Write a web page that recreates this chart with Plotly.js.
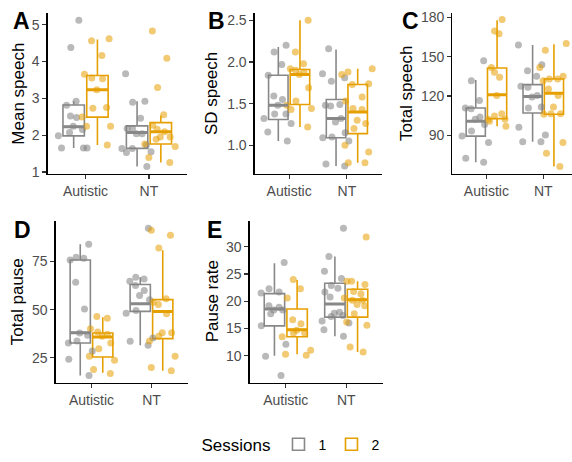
<!DOCTYPE html>
<html>
<head>
<meta charset="utf-8">
<script src="https://cdn.plot.ly/plotly-3.0.1.min.js"></script>
<style>html,body{margin:0;padding:0;background:#fff;}#chart{width:572px;height:462px;}</style>
</head>
<body>
<div id="chart"></div>
<script>
// ---- data ----
const groups = ['Autistic', 'NT'];
const sessions = ['1', '2'];

// A: Mean speech
const meanSpeechAut1 = [5.12, 4.38, 2.92, 2.81, 2.52, 2.48, 2.24, 2.15, 2.07, 1.98, 1.65, 1.65, 1.65];
const meanSpeechAut2 = [4.62, 4.56, 4.16, 3.65, 3.55, 3.53, 3.23, 2.75, 2.73, 2.49, 2.24, 2.24, 1.73];
const meanSpeechNT1 = [3.67, 2.92, 2.89, 2.46, 2.18, 2.18, 2.04, 2.04, 1.73, 1.64, 1.64, 1.55, 1.53, 1.15];
const meanSpeechNT2 = [4.83, 4.09, 3.29, 2.55, 2.27, 2.16, 2.09, 1.95, 1.95, 1.89, 1.76, 1.69, 1.39, 1.26];
// box stats order: [Aut S1, Aut S2, NT S1, NT S2]
const meanSpeechQ1 = [1.98, 2.49, 1.64, 1.76];
const meanSpeechMed = [2.23, 3.23, 2.07, 2.09];
const meanSpeechQ3 = [2.82, 3.62, 2.25, 2.34];
const meanSpeechLo = [1.65, 1.73, 1.15, 1.26];
const meanSpeechHi = [2.92, 4.60, 2.92, 2.53];

// B: SD speech
const sdSpeechAut1 = [2.20, 2.12, 1.97, 1.84, 1.59, 1.55, 1.48, 1.375, 1.375, 1.32, 1.26, 1.16, 1.05];
const sdSpeechAut2 = [2.50, 2.12, 1.98, 1.92, 1.90, 1.88, 1.85, 1.69, 1.53, 1.48, 1.44, 1.43, 1.22];
const sdSpeechNT1 = [2.16, 1.86, 1.81, 1.77, 1.49, 1.48, 1.47, 1.32, 1.28, 1.15, 1.10, 1.09, 1.05, 0.775, 0.75];
const sdSpeechNT2 = [1.92, 1.88, 1.85, 1.74, 1.73, 1.58, 1.53, 1.44, 1.43, 1.30, 1.26, 1.20, 1.00, 0.92, 0.79, 0.79];
const sdSpeechQ1 = [1.31, 1.49, 1.09, 1.14];
const sdSpeechMed = [1.48, 1.85, 1.32, 1.40];
const sdSpeechQ3 = [1.84, 1.91, 1.55, 1.73];
const sdSpeechLo = [1.05, 1.22, 0.75, 0.79];
const sdSpeechHi = [2.18, 2.50, 2.15, 1.92];

// C: Total speech
const totSpeechAut1 = [146.8, 131.7, 116.6, 110.9, 110.4, 104.1, 102.3, 98.3, 93.3, 89.5, 84.7, 72.7, 69.6];
const totSpeechAut2 = [178.2, 169.4, 167.4, 141.8, 138.0, 134.2, 120.4, 106.6, 104.8, 102.3, 102.3, 100.8, 97.0];
const totSpeechNT1 = [158.9, 143.8, 139.3, 135.0, 127.4, 126.7, 120.4, 119.2, 111.6, 110.9, 96.3, 90.3, 85.2, 85.2];
const totSpeechNT2 = [159.9, 154.9, 141.8, 135.0, 133.0, 133.0, 131.7, 125.4, 120.4, 111.6, 106.6, 106.6, 106.1, 84.7, 76.4, 66.4];
const totSpeechQ1 = [89.5, 102.8, 107.1, 106.1];
const totSpeechMed = [100.8, 120.9, 119.7, 122.2];
const totSpeechQ3 = [110.9, 141.3, 128.7, 133.0];
const totSpeechLo = [69.6, 97.0, 85.2, 66.4];
const totSpeechHi = [132.2, 177.7, 158.9, 159.4];

// D: Total pause
const totPauseAut1 = [83.9, 77.1, 76.7, 75.7, 64.2, 50.4, 37.9, 36.7, 33.8, 32.7, 28.6, 24.3, 15.9];
const totPauseAut2 = [46.5, 45.6, 40.1, 38.4, 37.2, 36.2, 32.7, 29.8, 25.9, 23.8, 19.0, 16.9];
const totPauseNT1 = [92.2, 66.8, 65.9, 64.7, 62.5, 59.9, 57.3, 55.1, 49.6, 48.2, 35.3, 33.6, 31.5];
const totPauseNT2 = [91.2, 88.6, 81.9, 55.6, 53.9, 52.7, 47.9, 38.1, 38.1, 36.2, 33.8, 25.9, 20.0, 18.3];
const totPauseQ1 = [32.7, 25.5, 49.1, 35.0];
const totPauseMed = [38.1, 35.8, 53.0, 49.1];
const totPauseQ3 = [75.7, 37.9, 63.0, 55.2];
const totPauseLo = [15.9, 17.3, 31.5, 18.3];
const totPauseHi = [83.9, 46.1, 66.8, 80.8];

// E: Pause rate
const pauseRateAut1 = [27.1, 22.3, 21.7, 21.5, 19.2, 18.9, 18.4, 18.4, 17.7, 15.5, 12.1, 9.9, 6.4];
const pauseRateAut2 = [24.0, 22.3, 20.6, 16.6, 15.9, 14.7, 14.2, 14.2, 13.5, 11.0, 10.3, 10.1];
const pauseRateNT1 = [33.4, 28.2, 25.5, 24.2, 22.9, 22.4, 21.7, 20.8, 18.0, 17.8, 17.4, 17.2, 16.4, 16.0, 14.8, 13.6];
const pauseRateNT2 = [31.8, 23.7, 23.7, 23.1, 21.8, 21.4, 20.6, 20.2, 20.2, 19.4, 19.2, 17.7, 16.2, 15.6, 11.6, 10.7];
const pauseRateQ1 = [15.5, 13.5, 17.1, 17.1];
const pauseRateMed = [18.6, 14.8, 19.5, 20.3];
const pauseRateQ3 = [21.4, 18.6, 23.3, 22.2];
const pauseRateLo = [10.0, 10.3, 13.6, 10.7];
const pauseRateHi = [27.0, 23.9, 28.2, 23.7];

const yTitles = ['Mean speech', 'SD speech', 'Total speech', 'Total pause', 'Pause rate'];
const tags = ['A', 'B', 'C', 'D', 'E'];
const tickValsA = [1, 2, 3, 4, 5];
const tickValsB = [1.0, 1.5, 2.0, 2.5];
const tickValsC = [90, 120, 150, 180];
const tickValsD = [25, 50, 75];
const tickValsE = [10, 15, 20, 25, 30];

// ---- layout geometry (px) ----
const W = 572, H = 462;
const FONT = 'Liberation Sans, Arial, Helvetica, sans-serif';
const panels = [
  {pts: [meanSpeechAut1, meanSpeechAut2, meanSpeechNT1, meanSpeechNT2], q1: meanSpeechQ1, med: meanSpeechMed, q3: meanSpeechQ3, lo: meanSpeechLo, hi: meanSpeechHi,
   xd: [47.5, 187], yd: [13, 175.7], yr: [0.95, 5.32], xr: [0.4, 2.6], tv: tickValsA, fmt: '', titleX: 18.3, tagX: 10.5, tagY: 21},
  {pts: [sdSpeechAut1, sdSpeechAut2, sdSpeechNT1, sdSpeechNT2], q1: sdSpeechQ1, med: sdSpeechMed, q3: sdSpeechQ3, lo: sdSpeechLo, hi: sdSpeechHi,
   xd: [254.5, 381.5], yd: [13, 175.7], yr: [0.657, 2.59], xr: [0.4, 2.6], tv: tickValsB, fmt: '.1f', titleX: 211.7, tagX: 206.5, tagY: 21},
  {pts: [totSpeechAut1, totSpeechAut2, totSpeechNT1, totSpeechNT2], q1: totSpeechQ1, med: totSpeechMed, q3: totSpeechQ3, lo: totSpeechLo, hi: totSpeechHi,
   xd: [452.3, 571.7], yd: [13, 175.7], yr: [60.8, 183.3], xr: [0.4, 2.5], tv: tickValsC, fmt: '', titleX: 406.7, tagX: 400, tagY: 21},
  {pts: [totPauseAut1, totPauseAut2, totPauseNT1, totPauseNT2], q1: totPauseQ1, med: totPauseMed, q3: totPauseQ3, lo: totPauseLo, hi: totPauseHi,
   xd: [55.5, 187.5], yd: [223.3, 387], yr: [12.1, 96], xr: [0.4, 2.6], tv: tickValsD, fmt: '', titleX: 18.3, tagX: 11.5, tagY: 233},
  {pts: [pauseRateAut1, pauseRateAut2, pauseRateNT1, pauseRateNT2], q1: pauseRateQ1, med: pauseRateMed, q3: pauseRateQ3, lo: pauseRateLo, hi: pauseRateHi,
   xd: [249.5, 382.5], yd: [223.3, 387], yr: [5.05, 34.75], xr: [0.4, 2.6], tv: tickValsE, fmt: '', titleX: 212.5, tagX: 205, tagY: 233}
];

const colors = ['#888888', '#E69F00'];
const ptColors = ['#808080', '#E69F00'];
const dodge = 0.1875, boxW = 0.3375, jitW = 0.6;

const data = [];
const layout = {
  width: W, height: H,
  margin: {l: 0, r: 0, t: 0, b: 0},
  paper_bgcolor: '#fff', plot_bgcolor: '#fff',
  showlegend: true,
  font: {family: FONT, color: '#000'},
  legend: {
    orientation: 'h', x: 292 / W, xanchor: 'center', y: 1 - 450 / H, yanchor: 'middle',
    title: {text: 'Sessions', font: {size: 17, family: FONT, color: '#000'}, side: 'left'},
    font: {size: 14, family: FONT, color: '#000'}
  },
  annotations: [],
  boxmode: 'overlay'
};

panels.forEach((p, k) => {
  const n = k === 0 ? '' : String(k + 1);
  const xa = 'x' + n, ya = 'y' + n;
  layout['xaxis' + n] = {
    domain: [p.xd[0] / W, p.xd[1] / W], range: p.xr, anchor: ya,
    tickmode: 'array', tickvals: groups.map((g, i) => i + 1), ticktext: groups,
    showline: true, linecolor: '#000', linewidth: 1.1, ticks: 'outside', ticklen: 4, tickcolor: '#333', tickwidth: 1.1,
    showgrid: false, zeroline: false, tickfont: {size: 14, color: '#4d4d4d', family: FONT}, fixedrange: true
  };
  layout['yaxis' + n] = {
    domain: [1 - p.yd[1] / H, 1 - p.yd[0] / H], range: p.yr, anchor: xa,
    tickmode: 'array', tickvals: p.tv, tickformat: p.fmt,
    showline: true, linecolor: '#000', linewidth: 1.1, ticks: 'outside', ticklen: 4, tickcolor: '#333', tickwidth: 1.1,
    showgrid: false, zeroline: false, tickfont: {size: 14, color: '#4d4d4d', family: FONT}, fixedrange: true
  };
  // boxes
  sessions.forEach((s, si) => {
    const pos = groups.map((g, gi) => gi + 1 + (si === 0 ? -dodge : dodge));
    const idx = [si, si + 2];
    data.push({
      type: 'box', xaxis: xa, yaxis: ya, name: s, legendgroup: s, showlegend: k === 0,
      x: pos, q1: idx.map(i => p.q1[i]), median: idx.map(i => p.med[i]), q3: idx.map(i => p.q3[i]),
      lowerfence: idx.map(i => p.lo[i]), upperfence: idx.map(i => p.hi[i]),
      width: boxW, whiskerwidth: 0, boxpoints: false,
      line: {color: colors[si], width: 1.6}, fillcolor: 'rgba(255,255,255,0)', hoverinfo: 'skip'
    });
  });
  // jittered points
  sessions.forEach((s, si) => {
    groups.forEach((g, gi) => {
      data.push({
        type: 'box', xaxis: xa, yaxis: ya, name: s, legendgroup: s, showlegend: false,
        y: p.pts[gi * 2 + si], x0: gi + 1 + (si === 0 ? -dodge : dodge), width: jitW,
        boxpoints: 'all', jitter: 1, pointpos: 0,
        marker: {color: ptColors[si], size: 7, opacity: 0.55, line: {width: 0}},
        line: {width: 0, color: 'rgba(0,0,0,0)'}, fillcolor: 'rgba(0,0,0,0)', whiskerwidth: 0, hoverinfo: 'skip'
      });
    });
  });
  // thick medians
  sessions.forEach((s, si) => {
    const xs = [], ys = [];
    groups.forEach((g, gi) => {
      const c = gi + 1 + (si === 0 ? -dodge : dodge);
      const m = p.med[gi * 2 + si];
      xs.push(c - boxW / 2, c + boxW / 2, null);
      ys.push(m, m, null);
    });
    data.push({type: 'scatter', mode: 'lines', xaxis: xa, yaxis: ya, x: xs, y: ys, showlegend: false,
      line: {color: colors[si], width: 3}, hoverinfo: 'skip'});
  });
  // y title
  layout.annotations.push({
    xref: 'paper', yref: 'paper', x: p.titleX / W, y: 1 - ((p.yd[0] + p.yd[1]) / 2) / H,
    xanchor: 'center', yanchor: 'middle', textangle: -90, showarrow: false,
    text: yTitles[k], font: {size: 17, family: FONT, color: '#000'}
  });
  // tag
  layout.annotations.push({
    xref: 'paper', yref: 'paper', x: p.tagX / W, y: 1 - p.tagY / H,
    xanchor: 'left', yanchor: 'middle', showarrow: false,
    text: '<b>' + tags[k] + '</b>', font: {size: 23, family: FONT, color: '#000'}
  });
});

Plotly.newPlot('chart', data, layout, {displayModeBar: false, staticPlot: true});
</script>
</body>
</html>
